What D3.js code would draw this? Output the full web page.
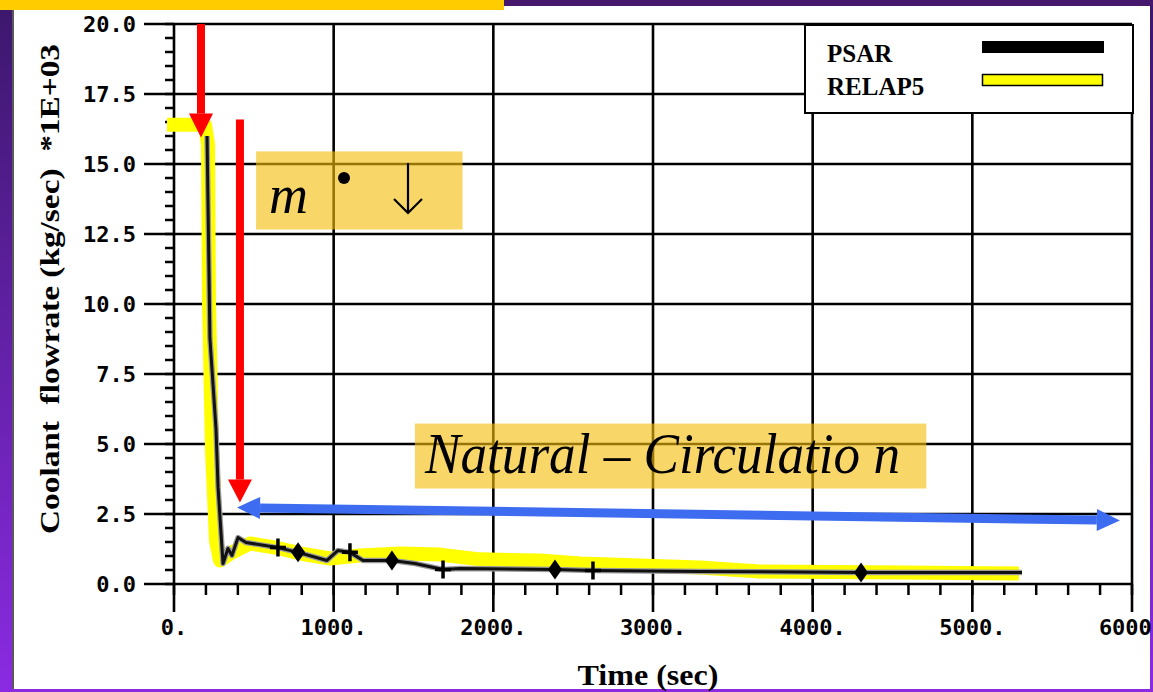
<!DOCTYPE html>
<html>
<head>
<meta charset="utf-8">
<script src="https://cdn.jsdelivr.net/npm/d3@7"></script>
<style>
  html, body { margin: 0; padding: 0; background: #fff; }
  svg { display: block; }
</style>
</head>
<body>
<div id="chart"></div>
<script>
// RELAP5 calculation (yellow band)
const relapTime = [0, 194, 213, 219, 238, 263, 288, 363, 476, 664, 789, 977, 1165, 1415, 1666, 1916, 2292, 2543, 2918, 3294, 3670, 4547, 5248];
const relapFlow = [16.4, 16.4, 15.7, 10.1, 4.8, 1.55, 0.84, 1.13, 1.45, 1.27, 1.09, 0.91, 1.02, 1.09, 1.05, 0.88, 0.84, 0.73, 0.66, 0.59, 0.45, 0.41, 0.38];

// PSAR curve (black) and its marker kinds
const psarTime = [207, 225, 263, 276, 307, 338, 363, 401, 451, 651, 777, 958, 1027, 1102, 1184, 1365, 1509, 1685, 1791, 2386, 2624, 3294, 4303, 5311];
const psarFlow = [16.0, 8.77, 5.55, 3.45, 0.73, 1.27, 1.02, 1.66, 1.48, 1.30, 1.13, 0.84, 1.20, 1.13, 0.84, 0.84, 0.73, 0.52, 0.55, 0.52, 0.48, 0.45, 0.41, 0.41];
const psarMark = ["", "", "", "", "", "", "", "", "", "+", "d", "", "", "+", "", "d", "", "+", "", "d", "+", "", "d", ""];

const yTicks = [0, 2.5, 5, 7.5, 10, 12.5, 15, 17.5, 20];
const xTicks = [0, 1000, 2000, 3000, 4000, 5000, 6000];
const legendNames = ["PSAR", "RELAP5"];

const W = 1153, H = 692;
const serif = "'Liberation Serif', 'Times New Roman', Times, serif";
const svg = d3.select("#chart").append("svg")
  .attr("width", W).attr("height", H);

// slide frame
const defs = svg.append("defs");
const grad = defs.append("linearGradient").attr("id", "edge")
  .attr("x1", 0).attr("y1", 0).attr("x2", 0).attr("y2", 1);
grad.append("stop").attr("offset", "0%").attr("stop-color", "#3c176c");
grad.append("stop").attr("offset", "100%").attr("stop-color", "#8a2be2");

svg.append("rect").attr("width", W).attr("height", H).attr("fill", "#fff");
svg.append("rect").attr("x", 0).attr("y", 0).attr("width", 12).attr("height", H).attr("fill", "url(#edge)");
svg.append("rect").attr("x", 1150).attr("y", 0).attr("width", 3).attr("height", H).attr("fill", "url(#edge)");
svg.append("rect").attr("x", 0).attr("y", 689).attr("width", W).attr("height", 3).attr("fill", "#8a2be2");
svg.append("line").attr("x1", 13).attr("x2", 13).attr("y1", 10).attr("y2", 689)
  .attr("stroke", "#222").attr("stroke-width", 1.5);
svg.append("rect").attr("x", 504).attr("y", 0).attr("width", W - 504).attr("height", 6).attr("fill", "#45186e");
svg.append("rect").attr("x", 0).attr("y", 0).attr("width", 504).attr("height", 10).attr("fill", "#ffcc00");

const x = d3.scaleLinear().domain([0, 6000]).range([174, 1132]);
const y = d3.scaleLinear().domain([0, 20]).range([584, 24]);

const grid = svg.append("g");

// minor ticks
grid.selectAll(".ymin").data(d3.range(0, 20.01, 0.5)).join("line")
  .attr("x1", 165).attr("x2", 174)
  .attr("y1", d => y(d)).attr("y2", d => y(d))
  .attr("stroke", "#000").attr("stroke-width", 2.5);
grid.selectAll(".xmin").data(d3.range(0, 6001, 200)).join("line")
  .attr("x1", d => x(d)).attr("x2", d => x(d))
  .attr("y1", 584).attr("y2", 595)
  .attr("stroke", "#000").attr("stroke-width", 2.5);

// major grid lines (extend past the axes as major ticks)
grid.selectAll(".hg").data(yTicks).join("line")
  .attr("x1", 144).attr("x2", x(6000))
  .attr("y1", d => y(d)).attr("y2", d => y(d))
  .attr("stroke", "#000").attr("stroke-width", 2.6);
grid.selectAll(".vg").data(xTicks).join("line")
  .attr("x1", d => x(d)).attr("x2", d => x(d))
  .attr("y1", y(20)).attr("y2", 612)
  .attr("stroke", "#000").attr("stroke-width", 2.6);

// tick labels
svg.append("g").selectAll("text").data(yTicks).join("text")
  .attr("x", 136).attr("y", d => y(d) + 8)
  .attr("text-anchor", "end")
  .attr("font-family", "DejaVu Sans Mono").attr("font-weight", "bold").attr("font-size", 22)
  .text(d3.format(".1f"));
svg.append("g").selectAll("text").data(xTicks).join("text")
  .attr("x", d => x(d)).attr("y", 635)
  .attr("text-anchor", "middle")
  .attr("font-family", "DejaVu Sans Mono").attr("font-weight", "bold").attr("font-size", 22)
  .text(d => d + ".");

// axis titles
svg.append("text")
  .attr("transform", "translate(59,289) rotate(-90)")
  .attr("text-anchor", "middle")
  .attr("font-family", serif).attr("font-weight", "bold").attr("font-size", 27)
  .attr("textLength", 490).attr("lengthAdjust", "spacingAndGlyphs")
  .style("white-space", "pre")
  .text("Coolant  flowrate (kg/sec)  *1E+03");
svg.append("text")
  .attr("x", 648).attr("y", 685)
  .attr("text-anchor", "middle")
  .attr("font-family", serif).attr("font-weight", "bold").attr("font-size", 30)
  .attr("textLength", 141).attr("lengthAdjust", "spacingAndGlyphs")
  .text("Time (sec)");

// series
const line = d3.line().x(d => x(d[0])).y(d => y(d[1])).curve(d3.curveLinear);
const relap = relapTime.map((t, i) => [t, relapFlow[i]]);
const psar = psarTime.map((t, i) => [t, psarFlow[i], psarMark[i]]);

svg.append("path").datum(relap)
  .attr("d", line).attr("fill", "none")
  .attr("stroke", "#ffff00").attr("stroke-width", 14)
  .attr("stroke-linejoin", "round").attr("stroke-linecap", "square");

svg.append("path").datum(psar)
  .attr("d", line).attr("fill", "none")
  .attr("stroke", "#9a9a9a").attr("stroke-width", 5.5).attr("stroke-linejoin", "round");
svg.append("path").datum(psar)
  .attr("d", line).attr("fill", "none")
  .attr("stroke", "#111").attr("stroke-width", 3).attr("stroke-linejoin", "round");

const mk = svg.append("g");
mk.selectAll(".dia").data(psar.filter(d => d[2] === "d")).join("path")
  .attr("transform", d => `translate(${x(d[0])},${y(d[1])})`)
  .attr("d", "M0,-10L7,0L0,10L-7,0Z").attr("fill", "#000");
mk.selectAll(".plus").data(psar.filter(d => d[2] === "+")).join("path")
  .attr("transform", d => `translate(${x(d[0])},${y(d[1])})`)
  .attr("d", "M0,-9V9M-8,0H8").attr("stroke", "#000").attr("stroke-width", 3.5);

// highlighted formula boxes
const boxFill = "#f4bd0c", boxOp = 0.62;
svg.append("rect")
  .attr("x", x(514)).attr("y", y(15.45))
  .attr("width", x(1807) - x(514)).attr("height", y(12.66) - y(15.45))
  .attr("fill", boxFill).attr("opacity", boxOp);
svg.append("text")
  .attr("x", 269).attr("y", 213)
  .attr("font-family", serif).attr("font-style", "italic").attr("font-size", 54)
  .text("m");
svg.append("circle").attr("cx", 344).attr("cy", 178).attr("r", 6).attr("fill", "#000");
svg.append("path")
  .attr("d", "M408,163V213M394,199L408,213L422,199")
  .attr("fill", "none").attr("stroke", "#000").attr("stroke-width", 2.2);

svg.append("rect")
  .attr("x", x(1509)).attr("y", y(5.73))
  .attr("width", x(4712) - x(1509)).attr("height", y(3.41) - y(5.73))
  .attr("fill", boxFill).attr("opacity", boxOp);
svg.append("text")
  .attr("x", 425).attr("y", 473)
  .attr("font-family", serif).attr("font-style", "italic").attr("font-size", 56)
  .attr("textLength", 475).attr("lengthAdjust", "spacingAndGlyphs")
  .style("white-space", "pre")
  .text("Natural \u2013 Circulatio n");

// red arrows
function vArrow(t, v0, vBase, vTip) {
  const g = svg.append("g").attr("fill", "#ff0000");
  g.append("rect").attr("x", x(t) - 4).attr("y", y(v0))
    .attr("width", 8).attr("height", y(vBase) - y(v0));
  g.append("path")
    .attr("d", `M${x(t) - 12},${y(vBase)}L${x(t) + 12},${y(vBase)}L${x(t)},${y(vTip)}Z`);
}
vArrow(169, 20, 16.8, 15.95);
vArrow(413, 16.59, 3.73, 2.91);

// blue double arrow
const bx0 = x(395), by0 = y(2.73), bx1 = x(5924), by1 = y(2.27);
const ang = Math.atan2(by1 - by0, bx1 - bx0);
const blue = svg.append("g").attr("fill", "#3d6cf0");
const ux = Math.cos(ang), uy = Math.sin(ang);
const hl = 23, hw = 11, lw = 4.5;
blue.append("path").attr("d",
  `M${bx0 + ux * hl - uy * lw},${by0 + uy * hl + ux * lw}` +
  `L${bx1 - ux * hl - uy * lw},${by1 - uy * hl + ux * lw}` +
  `L${bx1 - ux * hl + uy * lw},${by1 - uy * hl - ux * lw}` +
  `L${bx0 + ux * hl + uy * lw},${by0 + uy * hl - ux * lw}Z`);
blue.append("path").attr("d",
  `M${bx0},${by0}L${bx0 + ux * hl - uy * hw},${by0 + uy * hl + ux * hw}L${bx0 + ux * hl + uy * hw},${by0 + uy * hl - ux * hw}Z`);
blue.append("path").attr("d",
  `M${bx1},${by1}L${bx1 - ux * hl - uy * hw},${by1 - uy * hl + ux * hw}L${bx1 - ux * hl + uy * hw},${by1 - uy * hl - ux * hw}Z`);

// legend
const lg = svg.append("g");
lg.append("rect").attr("x", 805).attr("y", 25).attr("width", 328).attr("height", 88)
  .attr("fill", "#fff").attr("stroke", "#000").attr("stroke-width", 2);
lg.selectAll("text").data(legendNames).join("text")
  .attr("x", 827).attr("y", (d, i) => 62 + i * 33)
  .attr("font-family", serif).attr("font-weight", "bold").attr("font-size", 25)
  .text(d => d);
lg.append("rect").attr("x", 982).attr("y", 41).attr("width", 122).attr("height", 12).attr("fill", "#000");
lg.append("rect").attr("x", 982.5).attr("y", 74.5).attr("width", 120).attr("height", 11)
  .attr("fill", "#ffff00").attr("stroke", "#000").attr("stroke-width", 1.5);
</script>
</body>
</html>
